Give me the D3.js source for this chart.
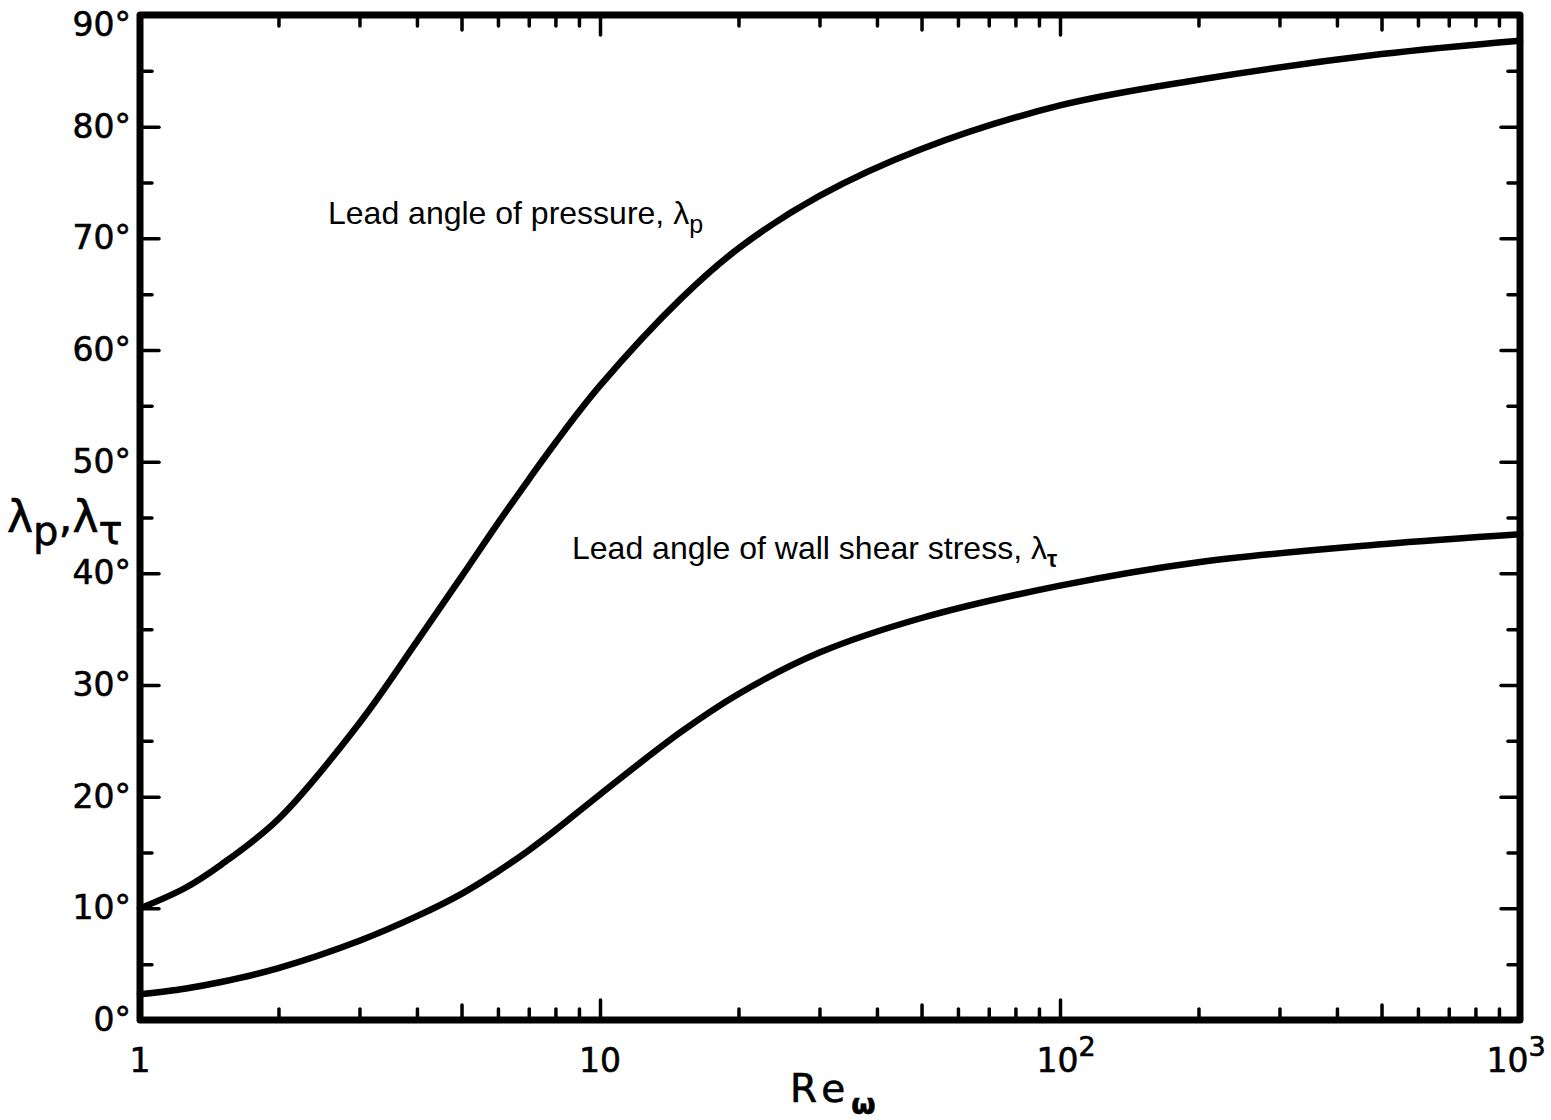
<!DOCTYPE html>
<html>
<head>
<meta charset="utf-8">
<script src="https://cdn.jsdelivr.net/npm/d3@7"></script>
<style>
  html, body { margin: 0; padding: 0; background: #fff; }
  svg { display: block; }
</style>
</head>
<body>
<svg id="chart" width="1551" height="1120"></svg>
<script>
// ---- data ----
const reValues      = [1, 1.25, 1.5, 2, 3, 4, 5, 6, 7, 8, 10, 15, 20, 30, 50, 100, 200, 500, 1000];
const pressureAngle = [10.0, 11.8, 13.9, 18.0, 26.6, 33.9, 39.7, 44.5, 48.4, 51.7, 56.8, 64.6, 69.1, 73.8, 78.0, 81.9, 84.2, 86.5, 87.7];
const shearAngle    = [2.3, 2.8, 3.4, 4.65, 7.1, 9.3, 11.3, 13.3, 15.2, 17.0, 20.2, 25.8, 29.2, 32.9, 36.0, 38.9, 41.0, 42.6, 43.5];

const xMajorTicks   = [1, 10, 100, 1000];
const xTickBase     = ["1", "10", "10", "10"];
const xTickExp      = ["", "", "2", "3"];
const yMajorTicks   = [0, 10, 20, 30, 40, 50, 60, 70, 80, 90];
const yTickLabels   = ["0°", "10°", "20°", "30°", "40°", "50°", "60°", "70°", "80°", "90°"];
const yMinorTicks   = [5, 15, 25, 35, 45, 55, 65, 75, 85];

const labelPressure = "Lead angle of pressure, ";
const labelShear    = "Lead angle of wall shear stress, ";

// ---- layout ----
const svg = d3.select("#chart");
const L = 140, R = 1520, T = 15, B = 1020;

const x = d3.scaleLog().domain([1, 1000]).range([L, R]);
const y = d3.scaleLinear().domain([0, 90]).range([B, T]);

// minor x ticks 2..9 per decade
const xMidTicks = [], xMinorTicks = [];
[1, 10, 100].forEach(d => {
  for (let k = 2; k <= 9; k++) {
    if (k === 5) xMidTicks.push(k * d); else xMinorTicks.push(k * d);
  }
});

const tickStyle = g => {
  g.select(".domain").remove();
  g.selectAll(".tick line").attr("stroke", "#000").attr("stroke-width", 3.5).attr("stroke-linecap", "round");
  g.selectAll(".tick text").remove();
};

// inward ticks on all four sides
function xTicks(vals, len) {
  svg.append("g").attr("transform", `translate(0,${B})`)
    .call(d3.axisBottom(x).tickValues(vals).tickSize(-len).tickFormat(""))
    .call(tickStyle);
  svg.append("g").attr("transform", `translate(0,${T})`)
    .call(d3.axisTop(x).tickValues(vals).tickSize(-len).tickFormat(""))
    .call(tickStyle);
}
function yTicks(vals, len) {
  svg.append("g").attr("transform", `translate(${L},0)`)
    .call(d3.axisLeft(y).tickValues(vals).tickSize(-len).tickFormat(""))
    .call(tickStyle);
  svg.append("g").attr("transform", `translate(${R},0)`)
    .call(d3.axisRight(y).tickValues(vals).tickSize(-len).tickFormat(""))
    .call(tickStyle);
}
xTicks(xMinorTicks, 11);
xTicks(xMidTicks, 15);
xTicks(xMajorTicks.slice(1, 3), 20);
yTicks(yMinorTicks, 12);
yTicks(yMajorTicks.slice(1, 9), 19);

// frame
svg.append("rect")
  .attr("x", L).attr("y", T).attr("width", R - L).attr("height", B - T)
  .attr("fill", "none").attr("stroke", "#000").attr("stroke-width", 7)
  .attr("stroke-linejoin", "round");

// curves
const line = d3.line()
  .x(d => x(d[0])).y(d => y(d[1]))
  .curve(d3.curveCatmullRom.alpha(0.5));

[pressureAngle, shearAngle].forEach(series => {
  svg.append("path")
    .datum(reValues.map((v, i) => [v, series[i]]))
    .attr("d", line)
    .attr("fill", "none")
    .attr("stroke", "#000")
    .attr("stroke-width", 6.5)
    .attr("stroke-linejoin", "round")
    .attr("stroke-linecap", "round");
});

// y tick labels
const tickFont = "'DejaVu Sans', sans-serif";
svg.append("g").selectAll("text")
  .data(yMajorTicks)
  .join("text")
  .attr("x", 131)
  .attr("y", d => Math.max(y(d) + 11, 36))
  .attr("text-anchor", "end")
  .attr("font-family", tickFont)
  .attr("font-size", 33)
  .attr("fill", "#000")
  .attr("stroke", "#000")
  .attr("stroke-width", 0.6)
  .text((d, i) => yTickLabels[i]);

// x tick labels
const xl = svg.append("g").selectAll("text")
  .data(xMajorTicks)
  .join("text")
  .attr("x", (d, i) => x(d) + (i === 2 ? 6 : i === 3 ? -4 : 0))
  .attr("y", 1072)
  .attr("text-anchor", "middle")
  .attr("font-family", tickFont)
  .attr("font-size", 33)
  .attr("fill", "#000")
  .attr("stroke", "#000")
  .attr("stroke-width", 0.6);
xl.append("tspan").text((d, i) => xTickBase[i]);
xl.append("tspan")
  .attr("dy", -16)
  .attr("font-size", 27)
  .text((d, i) => xTickExp[i]);

// x axis title  Re_ω
const xt = svg.append("text")
  .attr("x", 790).attr("y", 1102)
  .attr("font-family", tickFont)
  .attr("font-size", 39)
  .attr("letter-spacing", 6)
  .attr("fill", "#000")
  .attr("stroke", "#000")
  .attr("stroke-width", 0.6);
xt.append("tspan").text("Re");
xt.append("tspan").attr("dy", 12).attr("font-size", 28).attr("font-weight", "bold").attr("letter-spacing", 0).text("ω");

// y axis title  λp,λτ
const yt = svg.append("text")
  .attr("x", 7).attr("y", 532)
  .attr("font-family", tickFont)
  .attr("font-size", 44)
  .attr("fill", "#000")
  .attr("stroke", "#000")
  .attr("stroke-width", 0.6);
yt.append("tspan").text("λ");
yt.append("tspan").attr("dy", 13).attr("font-size", 40).text("p");
yt.append("tspan").attr("dy", -13).attr("font-size", 44).text(",λ");
yt.append("tspan").attr("dy", 12).attr("font-size", 40).text("τ");

// annotations
const annFont = "'Liberation Sans', Arial, sans-serif";
const a1 = svg.append("text")
  .attr("x", 328).attr("y", 224)
  .attr("font-family", annFont).attr("font-size", 32).attr("fill", "#000");
a1.append("tspan").text(labelPressure);
a1.append("tspan").text("λ");
a1.append("tspan").attr("dy", 9).attr("font-size", 25).text("p");

const a2 = svg.append("text")
  .attr("x", 572).attr("y", 559)
  .attr("font-family", annFont).attr("font-size", 32).attr("fill", "#000");
a2.append("tspan").text(labelShear);
a2.append("tspan").text("λ");
a2.append("tspan").attr("dy", 8).attr("font-size", 23).attr("font-weight", "bold").text("τ");
</script>
</body>
</html>
